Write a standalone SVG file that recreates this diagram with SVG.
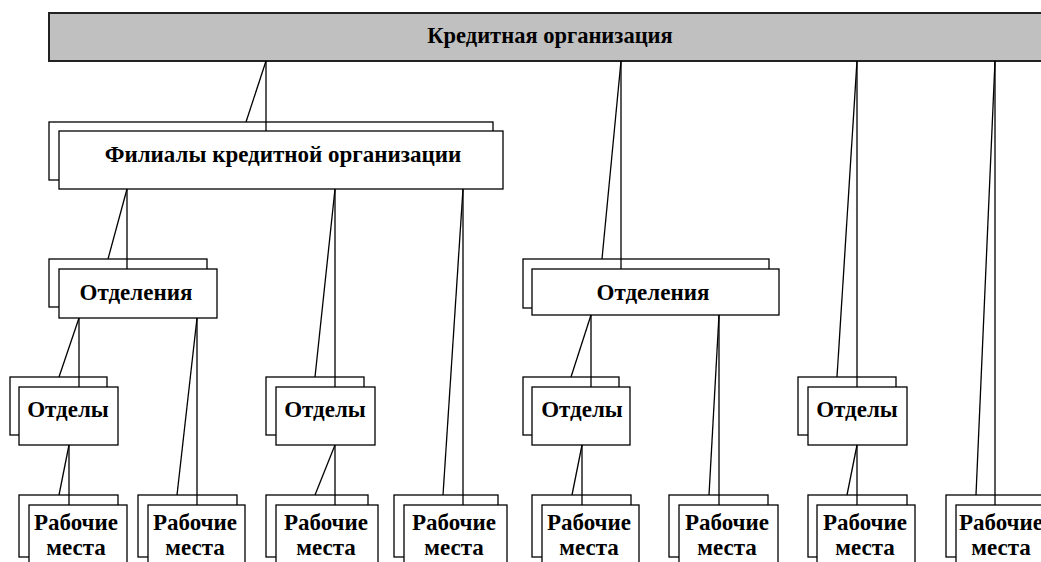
<svg xmlns="http://www.w3.org/2000/svg" width="1041" height="562" viewBox="0 0 1041 562">
<style>
.b{fill:#fff;stroke:#000;stroke-width:1.3}
.top{fill:#c0c0c0;stroke:#222;stroke-width:2}
.t{font-family:"Liberation Serif","Times New Roman",serif;font-weight:bold;font-size:23px;fill:#000;text-anchor:middle}
.c line{stroke:#000;stroke-width:1.3}
</style>
<rect width="1041" height="562" fill="#fff"/>
<g id="n-top">
<rect class="top" x="49" y="13" width="1010" height="48"/>
<text class="t" x="550" y="43" style="font-size:22.5px">Кредитная организация</text>
</g>
<g id="n-filialy">
<rect class="b" x="49" y="122" width="444" height="58"/>
<rect class="b" x="59" y="131" width="444" height="58"/>
<text class="t" x="283" y="162">Филиалы кредитной организации</text>
</g>
<g id="n-otdeleniya1">
<rect class="b" x="49" y="259" width="158" height="48"/>
<rect class="b" x="59" y="269" width="158" height="49"/>
<text class="t" x="136" y="300">Отделения</text>
</g>
<g id="n-otdeleniya2">
<rect class="b" x="523" y="259" width="246" height="49"/>
<rect class="b" x="532" y="269" width="247" height="46"/>
<text class="t" x="653" y="300">Отделения</text>
</g>
<g id="n-otdely1">
<rect class="b" x="10" y="377" width="97" height="58"/>
<rect class="b" x="19" y="387" width="99" height="58"/>
<text class="t" x="68" y="417">Отделы</text>
</g>
<g id="n-otdely2">
<rect class="b" x="266" y="377" width="98" height="58"/>
<rect class="b" x="276" y="387" width="99" height="58"/>
<text class="t" x="325" y="417">Отделы</text>
</g>
<g id="n-otdely3">
<rect class="b" x="523" y="377" width="96" height="58"/>
<rect class="b" x="532" y="387" width="98" height="58"/>
<text class="t" x="582" y="417">Отделы</text>
</g>
<g id="n-otdely4">
<rect class="b" x="798" y="377" width="98" height="58"/>
<rect class="b" x="808" y="387" width="99" height="58"/>
<text class="t" x="857" y="417">Отделы</text>
</g>
<g id="n-rab1">
<rect class="b" x="19" y="495" width="99" height="62"/>
<rect class="b" x="29" y="505" width="98" height="70"/>
<text class="t" x="76" y="530">Рабочие</text><text class="t" x="76" y="555">места</text>
</g>
<g id="n-rab2">
<rect class="b" x="138" y="495" width="99" height="62"/>
<rect class="b" x="148" y="505" width="97" height="70"/>
<text class="t" x="195" y="530">Рабочие</text><text class="t" x="195" y="555">места</text>
</g>
<g id="n-rab3">
<rect class="b" x="266" y="495" width="102" height="62"/>
<rect class="b" x="276" y="505" width="102" height="70"/>
<text class="t" x="326" y="530">Рабочие</text><text class="t" x="326" y="555">места</text>
</g>
<g id="n-rab4">
<rect class="b" x="394" y="495" width="104" height="62"/>
<rect class="b" x="404" y="505" width="103" height="70"/>
<text class="t" x="454" y="530">Рабочие</text><text class="t" x="454" y="555">места</text>
</g>
<g id="n-rab5">
<rect class="b" x="532" y="495" width="99" height="62"/>
<rect class="b" x="542" y="505" width="97" height="70"/>
<text class="t" x="589" y="530">Рабочие</text><text class="t" x="589" y="555">места</text>
</g>
<g id="n-rab6">
<rect class="b" x="669" y="495" width="99" height="62"/>
<rect class="b" x="679" y="505" width="99" height="70"/>
<text class="t" x="727" y="530">Рабочие</text><text class="t" x="727" y="555">места</text>
</g>
<g id="n-rab7">
<rect class="b" x="808" y="495" width="99" height="62"/>
<rect class="b" x="817" y="505" width="98" height="70"/>
<text class="t" x="865" y="530">Рабочие</text><text class="t" x="865" y="555">места</text>
</g>
<g id="n-rab8">
<rect class="b" x="946" y="495" width="99" height="62"/>
<rect class="b" x="956" y="505" width="98" height="70"/>
<text class="t" x="1001" y="530">Рабочие</text><text class="t" x="1001" y="555">места</text>
</g>
<g id="connectors" class="c">
<line x1="266" y1="61" x2="266" y2="131"/><line x1="266" y1="61" x2="246" y2="122"/>
<line x1="621" y1="61" x2="621" y2="269"/><line x1="621" y1="61" x2="602" y2="259"/>
<line x1="857" y1="61" x2="857" y2="387"/><line x1="857" y1="61" x2="837" y2="377"/>
<line x1="995" y1="61" x2="995" y2="505"/><line x1="995" y1="61" x2="976" y2="495"/>
<line x1="127" y1="189" x2="127" y2="269"/><line x1="127" y1="189" x2="108" y2="259"/>
<line x1="335" y1="189" x2="335" y2="387"/><line x1="335" y1="189" x2="315" y2="377"/>
<line x1="463" y1="189" x2="463" y2="505"/><line x1="463" y1="189" x2="443" y2="495"/>
<line x1="79" y1="318" x2="79" y2="387"/><line x1="79" y1="318" x2="59" y2="377"/>
<line x1="197" y1="318" x2="197" y2="505"/><line x1="197" y1="318" x2="177" y2="495"/>
<line x1="591" y1="315" x2="591" y2="387"/><line x1="591" y1="315" x2="571" y2="377"/>
<line x1="719" y1="315" x2="719" y2="505"/><line x1="719" y1="315" x2="709" y2="495"/>
<line x1="69" y1="445" x2="69" y2="505"/><line x1="69" y1="445" x2="59" y2="495"/>
<line x1="335" y1="445" x2="335" y2="505"/><line x1="335" y1="445" x2="315" y2="495"/>
<line x1="582" y1="445" x2="582" y2="505"/><line x1="582" y1="445" x2="572" y2="495"/>
<line x1="857" y1="445" x2="857" y2="505"/><line x1="857" y1="445" x2="847" y2="495"/>
</g>
</svg>
